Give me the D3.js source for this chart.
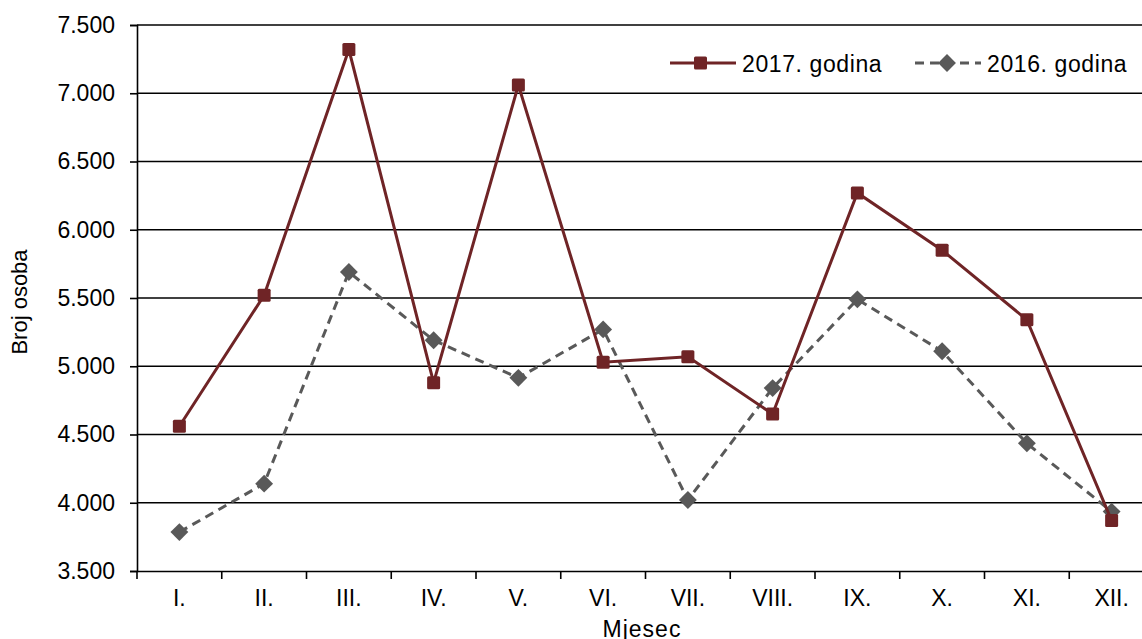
<!DOCTYPE html>
<html><head><meta charset="utf-8">
<script src="https://cdn.jsdelivr.net/npm/d3@7"></script>
<style>body{margin:0;background:#fff;} svg{display:block;font-family:"Liberation Sans",Arial,sans-serif;}</style>
</head><body>
<svg id="c" width="1142" height="639"></svg>
<script>
const months = ["I.","II.","III.","IV.","V.","VI.","VII.","VIII.","IX.","X.","XI.","XII."];
const values2017 = [4560,5520,7320,4880,7060,5030,5070,4650,6270,5850,5340,3870];
const values2016 = [3785,4140,5690,5190,4915,5270,4020,4840,5490,5110,4435,3935];
const yTicks = [3500,4000,4500,5000,5500,6000,6500,7000,7500];
const seriesNames = ["2017. godina","2016. godina"];

(function(){
const svg = d3.select("#c");
const mL = 137, mR = 1154, mT = 25, mB = 571;
const c17 = "#6F2426", c16 = "#595959";
const x = d3.scaleBand().domain(months).range([mL, mR]);
const y = d3.scaleLinear().domain([3500,7500]).range([mB, mT]);
const fmt = v => d3.format(",.3f")(v/1000).replace(",", "");
const FF = "Liberation Sans, Arial, sans-serif";

// gridlines
svg.append("g").selectAll("line").data(yTicks.slice(1)).join("line")
  .attr("x1", mL).attr("x2", 1142).attr("y1", d=>y(d)).attr("y2", d=>y(d))
  .attr("stroke","#000").attr("stroke-width",1.6);

// y axis
const ya = svg.append("g").attr("transform",`translate(${mL},0)`)
  .call(d3.axisLeft(y).tickValues(yTicks).tickSize(7).tickPadding(15).tickFormat(d=>fmt(d)));
ya.select(".domain").attr("stroke","#000").attr("stroke-width",1.6);
ya.selectAll(".tick line").attr("stroke","#000").attr("stroke-width",1.6);
ya.selectAll("text").attr("font-size",23).attr("fill","#000").attr("font-family",FF);

// x axis
const xa = svg.append("g").attr("transform",`translate(0,${mB})`)
  .call(d3.axisBottom(x).tickSize(0).tickPadding(19));
xa.select(".domain").attr("stroke","#000").attr("stroke-width",1.6);
xa.selectAll("text").attr("font-size",23).attr("fill","#000").attr("font-family",FF);
svg.append("g").selectAll("line").data(months).join("line")
  .attr("x1", d=>x(d)).attr("x2", d=>x(d)).attr("y1", mB).attr("y2", mB+8)
  .attr("stroke","#000").attr("stroke-width",1.6);

const cx = d => x(d) + x.bandwidth()/2;
const line = d3.line().x((d,i)=>cx(months[i])).y(d=>y(d));
const sq = d3.symbol().type(d3.symbolSquare).size(160);

// 2016 series
svg.append("path").datum(values2016).attr("d", line).attr("fill","none")
  .attr("stroke",c16).attr("stroke-width",3).attr("stroke-dasharray","9,6");
svg.append("g").selectAll("path").data(values2016).join("path")
  .attr("d", sq).attr("transform",(d,i)=>`translate(${cx(months[i])},${y(d)}) rotate(45)`)
  .attr("fill",c16);

// 2017 series
svg.append("path").datum(values2017).attr("d", line).attr("fill","none")
  .attr("stroke",c17).attr("stroke-width",3);
svg.append("g").selectAll("rect").data(values2017).join("rect")
  .attr("x",(d,i)=>cx(months[i])-6.5).attr("y",d=>y(d)-6.5).attr("width",13).attr("height",13).attr("rx",1.5)
  .attr("fill",c17);

// legend
const lg = svg.append("g");
lg.append("line").attr("x1",670).attr("x2",736).attr("y1",63).attr("y2",63).attr("stroke",c17).attr("stroke-width",3);
lg.append("rect").attr("x",694).attr("y",56.5).attr("width",13).attr("height",13).attr("rx",1.5).attr("fill",c17);
lg.append("text").attr("x",742).attr("y",72).attr("font-size",23).attr("letter-spacing",0.6).text(seriesNames[0]);
lg.append("line").attr("x1",915).attr("x2",981).attr("y1",63).attr("y2",63).attr("stroke",c16).attr("stroke-width",3).attr("stroke-dasharray","9,6");
lg.append("path").attr("d", sq).attr("transform","translate(947,63) rotate(45)").attr("fill",c16);
lg.append("text").attr("x",987).attr("y",72).attr("font-size",23).attr("letter-spacing",0.6).text(seriesNames[1]);

// axis titles
svg.append("text").attr("transform","translate(27,302) rotate(-90)").attr("text-anchor","middle")
  .attr("font-size",22).text("Broj osoba");
svg.append("text").attr("x",642).attr("y",637).attr("text-anchor","middle").attr("font-size",23)
  .attr("letter-spacing",1).text("Mjesec");
})();
</script>
</body></html>
